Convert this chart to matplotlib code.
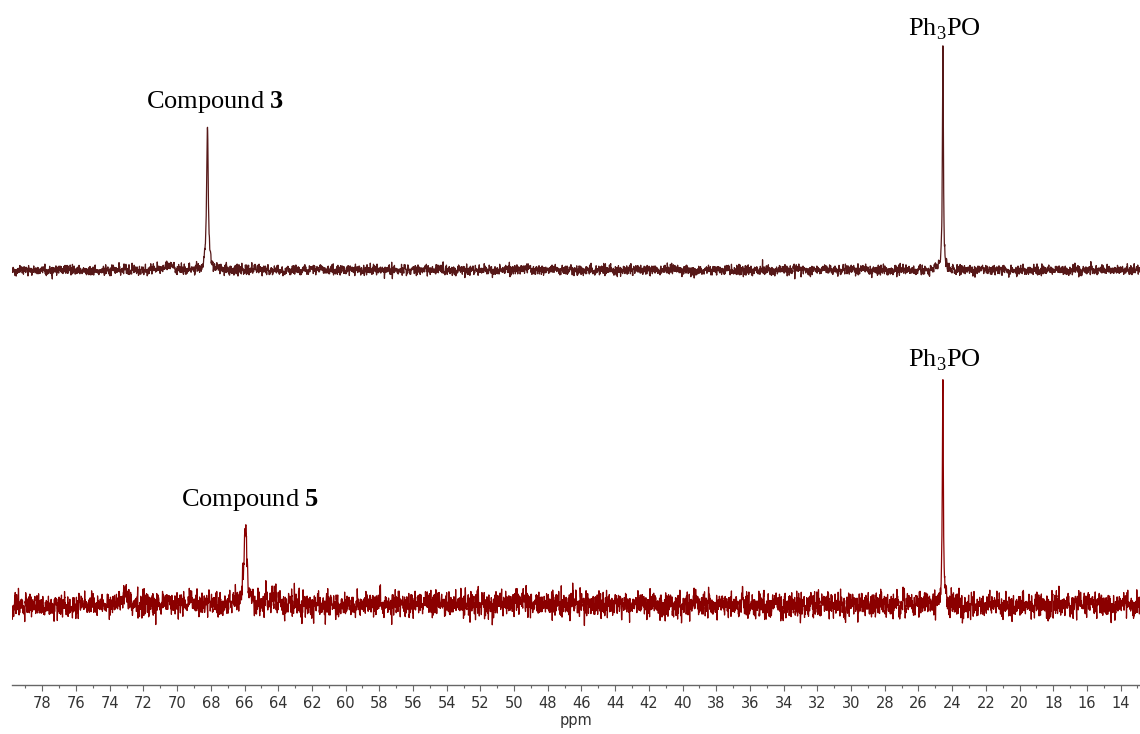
import numpy as np
import matplotlib
matplotlib.use("Agg")
import matplotlib.pyplot as plt
from matplotlib.ticker import MultipleLocator

# --- spectrum data (ppm, relative intensity, half width in ppm) ---
ppm_start, ppm_end = 79.8, 12.85

top_peaks_ppm = [24.55, 68.2, 70.45]
top_peaks_height = [100.0, 64.0, 2.4]
top_peaks_hwhm = [0.035, 0.06, 0.25]
top_noise_level = 1.1

bottom_peaks_ppm = [24.55, 65.95, 73.05, 64.3, 49.7]
bottom_peaks_height = [98.0, 35.0, 7.0, 3.0, 2.0]
bottom_peaks_hwhm = [0.035, 0.11, 0.1, 0.4, 0.5]
bottom_noise_level = 2.7

top_offset = 186.0
bottom_offset = 36.0

peak_labels = ["Compound $\\mathbf{3}$", "Ph$_3$PO", "Compound $\\mathbf{5}$", "Ph$_3$PO"]
label_ppm = [67.75, 24.45, 65.7, 24.45]
label_y = [255.5, 288.0, 77.0, 140.0]

tick_step = 2
tick_minor = 1
x_label = "ppm"

# --- build traces ---
ppm = np.linspace(ppm_start, ppm_end, 7000)
rng = np.random.default_rng(7)


def lorentz(x, x0, h, w):
    return h * w**2 / ((x - x0) ** 2 + w**2)


def trace(centers, heights, widths, noise_level):
    y = np.zeros_like(ppm)
    for c, h, w in zip(centers, heights, widths):
        y += lorentz(ppm, c, h, w)
    n = rng.normal(0, noise_level, ppm.size)
    n = np.convolve(n, [0.2, 0.6, 0.2], mode="same") * 1.5
    return y + n


top = trace(top_peaks_ppm, top_peaks_height, top_peaks_hwhm, top_noise_level)
bottom = trace(bottom_peaks_ppm, bottom_peaks_height, bottom_peaks_hwhm, bottom_noise_level)

plt.rcParams["mathtext.fontset"] = "custom"
plt.rcParams["mathtext.rm"] = "Liberation Serif"
plt.rcParams["mathtext.bf"] = "Liberation Serif:bold"

fig = plt.figure(figsize=(11.4, 7.34), dpi=100)
ax = fig.add_axes([12 / 1140, 1 - 685 / 734, 1128 / 1140, 685 / 734])

ax.plot(ppm, top + top_offset, color="#561818", lw=0.9)
ax.plot(ppm, bottom + bottom_offset, color="#8b0000", lw=0.9)

for txt, x, y in zip(peak_labels, label_ppm, label_y):
    ax.text(x, y, txt, ha="center", va="bottom", fontsize=19,
            family="Liberation Serif", color="black")

ax.set_xlim(ppm_start, ppm_end)
ax.set_ylim(0, 307)
ax.xaxis.set_major_locator(MultipleLocator(tick_step))
ax.xaxis.set_minor_locator(MultipleLocator(tick_minor))
for s in ["top", "left", "right"]:
    ax.spines[s].set_visible(False)
ax.spines["bottom"].set_color("#666666")
ax.spines["bottom"].set_linewidth(1.0)
ax.set_yticks([])
ax.tick_params(axis="x", which="major", length=4, width=0.8, color="#666666",
               labelsize=10.5, labelcolor="#333333", pad=4)
ax.tick_params(axis="x", which="minor", length=2, width=0.8, color="#666666")
ax.set_xlabel(x_label, fontsize=10.5, color="#333333", labelpad=1)
ax.patch.set_alpha(0)

fig.savefig("out.png", dpi=100)
